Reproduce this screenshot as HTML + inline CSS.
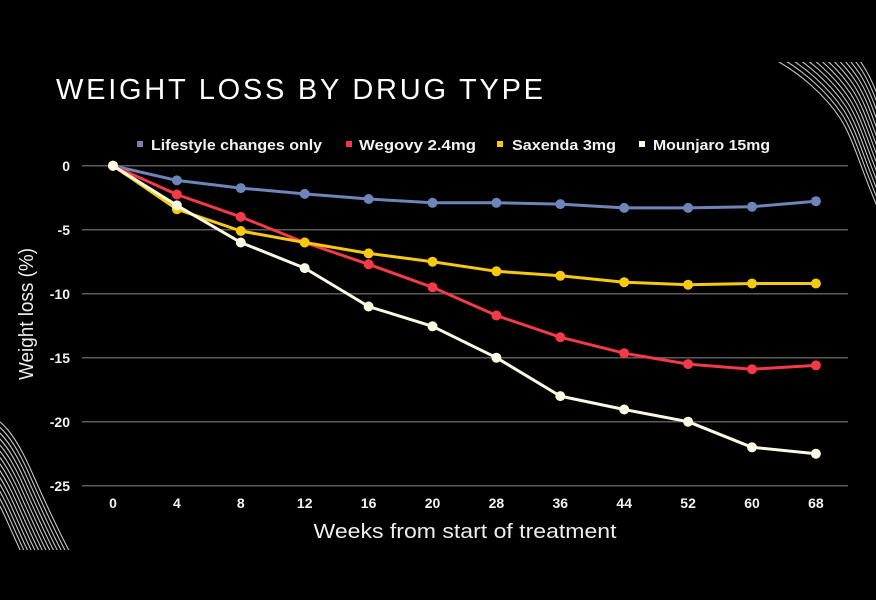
<!DOCTYPE html>
<html>
<head>
<meta charset="utf-8">
<style>
  html, body { margin:0; padding:0; background:#000; }
  body { width:876px; height:600px; overflow:hidden; }
  svg { display:block; }
  text { font-family: "Liberation Sans", sans-serif; }
</style>
</head>
<body>
<svg width="876" height="600" viewBox="0 0 876 600" xmlns="http://www.w3.org/2000/svg">
  <rect x="0" y="0" width="876" height="600" fill="#000"/>
  <defs>
    <clipPath id="ctr"><rect x="770" y="62" width="106" height="200"/></clipPath>
    <clipPath id="cbl"><rect x="0" y="400" width="100" height="150"/></clipPath>
    <path id="trc" d="M 779 62 C 800 74, 825 95, 840 118 S 862 175, 884 222" fill="none"/>
    <path id="blc" d="M -4 419 C 10 428, 21 448, 30 468 S 55 525, 72 556" fill="none"/>
  </defs>

  <!-- decorative curves top-right -->
  <g clip-path="url(#ctr)" stroke="#c4c4c4" stroke-width="1.1" fill="none">
    <use href="#trc" transform="translate(0,0)"/>
    <use href="#trc" transform="translate(1.8,-4)"/>
    <use href="#trc" transform="translate(3.6,-8)"/>
    <use href="#trc" transform="translate(5.4,-12)"/>
    <use href="#trc" transform="translate(7.2,-16)"/>
    <use href="#trc" transform="translate(9,-20)"/>
    <use href="#trc" transform="translate(10.8,-24)"/>
    <use href="#trc" transform="translate(12.6,-28)"/>
    <use href="#trc" transform="translate(14.4,-32)"/>
    <use href="#trc" transform="translate(16.2,-36)"/>
    <use href="#trc" transform="translate(18,-40)"/>
    <use href="#trc" transform="translate(19.8,-44)"/>
    <use href="#trc" transform="translate(21.6,-48)"/>
    <use href="#trc" transform="translate(23.4,-52)"/>
  </g>

  <!-- decorative curves bottom-left -->
  <g clip-path="url(#cbl)" stroke="#c4c4c4" stroke-width="1.1" fill="none">
    <use href="#blc" transform="translate(0,0)"/>
    <use href="#blc" transform="translate(-1.8,4)"/>
    <use href="#blc" transform="translate(-3.6,8)"/>
    <use href="#blc" transform="translate(-5.4,12)"/>
    <use href="#blc" transform="translate(-7.2,16)"/>
    <use href="#blc" transform="translate(-9,20)"/>
    <use href="#blc" transform="translate(-10.8,24)"/>
    <use href="#blc" transform="translate(-12.6,28)"/>
    <use href="#blc" transform="translate(-14.4,32)"/>
    <use href="#blc" transform="translate(-16.2,36)"/>
    <use href="#blc" transform="translate(-18,40)"/>
    <use href="#blc" transform="translate(-19.8,44)"/>
    <use href="#blc" transform="translate(-21.6,48)"/>
    <use href="#blc" transform="translate(-23.4,52)"/>
  </g>

  <!-- title -->
  <text x="56" y="99" font-size="29" fill="#ffffff" textLength="487" lengthAdjust="spacing">WEIGHT LOSS BY DRUG TYPE</text>

  <!-- legend -->
  <rect x="137" y="141" width="6" height="6" fill="#6d85b8"/>
  <text x="151" y="150" font-size="15" font-weight="bold" fill="#f2f2f2" textLength="171" lengthAdjust="spacingAndGlyphs">Lifestyle changes only</text>
  <rect x="346" y="141" width="6" height="6" fill="#f23a48"/>
  <text x="359" y="150" font-size="15" font-weight="bold" fill="#f2f2f2" textLength="117" lengthAdjust="spacingAndGlyphs">Wegovy 2.4mg</text>
  <rect x="497" y="141" width="6" height="6" fill="#f7c90f"/>
  <text x="512" y="150" font-size="15" font-weight="bold" fill="#f2f2f2" textLength="104" lengthAdjust="spacingAndGlyphs">Saxenda 3mg</text>
  <rect x="639" y="141" width="6" height="6" fill="#fdf8e2"/>
  <text x="653" y="150" font-size="15" font-weight="bold" fill="#f2f2f2" textLength="117" lengthAdjust="spacingAndGlyphs">Mounjaro 15mg</text>

  <!-- gridlines -->
  <g stroke="#5a5a5a" stroke-width="1.5">
    <line x1="82" y1="165.7" x2="848" y2="165.7"/>
    <line x1="82" y1="229.7" x2="848" y2="229.7"/>
    <line x1="82" y1="293.7" x2="848" y2="293.7"/>
    <line x1="82" y1="357.7" x2="848" y2="357.7"/>
    <line x1="82" y1="421.7" x2="848" y2="421.7"/>
    <line x1="82" y1="485.7" x2="848" y2="485.7"/>
  </g>

  <!-- y tick labels -->
  <g font-size="14" font-weight="bold" fill="#f2f2f2" text-anchor="end">
    <text x="70" y="171">0</text>
    <text x="70" y="235">-5</text>
    <text x="70" y="299">-10</text>
    <text x="70" y="363">-15</text>
    <text x="70" y="427">-20</text>
    <text x="70" y="491">-25</text>
  </g>

  <!-- x tick labels -->
  <g font-size="14" font-weight="bold" fill="#f2f2f2" text-anchor="middle">
    <text x="113" y="508">0</text>
    <text x="176.9" y="508">4</text>
    <text x="240.8" y="508">8</text>
    <text x="304.7" y="508">12</text>
    <text x="368.6" y="508">16</text>
    <text x="432.5" y="508">20</text>
    <text x="496.4" y="508">28</text>
    <text x="560.3" y="508">36</text>
    <text x="624.2" y="508">44</text>
    <text x="688.1" y="508">52</text>
    <text x="752" y="508">60</text>
    <text x="815.9" y="508">68</text>
  </g>

  <!-- axis titles -->
  <text x="465" y="538" font-size="20" fill="#eeeeee" text-anchor="middle" textLength="303" lengthAdjust="spacingAndGlyphs">Weeks from start of treatment</text>
  <text transform="translate(33,314) rotate(-90)" x="0" y="0" font-size="20" fill="#eeeeee" text-anchor="middle" textLength="132" lengthAdjust="spacingAndGlyphs">Weight loss (%)</text>

  <!-- Lifestyle -->
  <g fill="#6d85b8" stroke="#6d85b8">
    <polyline fill="none" stroke-width="3" stroke-linejoin="round" points="113,165.7 176.9,180.4 240.8,188.1 304.7,193.9 368.6,199 432.5,202.8 496.4,202.8 560.3,204.1 624.2,207.9 688.1,207.9 752,206.7 815.9,201.2"/>
    <g stroke="none">
      <circle cx="113" cy="165.7" r="5"/><circle cx="176.9" cy="180.4" r="5"/><circle cx="240.8" cy="188.1" r="5"/><circle cx="304.7" cy="193.9" r="5"/><circle cx="368.6" cy="199" r="5"/><circle cx="432.5" cy="202.8" r="5"/><circle cx="496.4" cy="202.8" r="5"/><circle cx="560.3" cy="204.1" r="5"/><circle cx="624.2" cy="207.9" r="5"/><circle cx="688.1" cy="207.9" r="5"/><circle cx="752" cy="206.7" r="5"/><circle cx="815.9" cy="201.2" r="5"/>
    </g>
  </g>

  <!-- Wegovy -->
  <g fill="#f23a48" stroke="#f23a48">
    <polyline fill="none" stroke-width="3" stroke-linejoin="round" points="113,165.7 176.9,194.5 240.8,216.9 304.7,242.5 368.6,264.3 432.5,287.3 496.4,315.5 560.3,337.2 624.2,353.2 688.1,364.1 752,369.2 815.9,365.4"/>
    <g stroke="none">
      <circle cx="113" cy="165.7" r="5"/><circle cx="176.9" cy="194.5" r="5"/><circle cx="240.8" cy="216.9" r="5"/><circle cx="304.7" cy="242.5" r="5"/><circle cx="368.6" cy="264.3" r="5"/><circle cx="432.5" cy="287.3" r="5"/><circle cx="496.4" cy="315.5" r="5"/><circle cx="560.3" cy="337.2" r="5"/><circle cx="624.2" cy="353.2" r="5"/><circle cx="688.1" cy="364.1" r="5"/><circle cx="752" cy="369.2" r="5"/><circle cx="815.9" cy="365.4" r="5"/>
    </g>
  </g>

  <!-- Saxenda -->
  <g fill="#f7c90f" stroke="#f7c90f">
    <polyline fill="none" stroke-width="3" stroke-linejoin="round" points="113,165.7 176.9,209.2 240.8,231 304.7,242.5 368.6,253.4 432.5,261.7 496.4,271.3 560.3,275.8 624.2,282.2 688.1,284.7 752,283.5 815.9,283.5"/>
    <g stroke="none">
      <circle cx="113" cy="165.7" r="5"/><circle cx="176.9" cy="209.2" r="5"/><circle cx="240.8" cy="231" r="5"/><circle cx="304.7" cy="242.5" r="5"/><circle cx="368.6" cy="253.4" r="5"/><circle cx="432.5" cy="261.7" r="5"/><circle cx="496.4" cy="271.3" r="5"/><circle cx="560.3" cy="275.8" r="5"/><circle cx="624.2" cy="282.2" r="5"/><circle cx="688.1" cy="284.7" r="5"/><circle cx="752" cy="283.5" r="5"/><circle cx="815.9" cy="283.5" r="5"/>
    </g>
  </g>

  <!-- Mounjaro -->
  <g fill="#fdf8e2" stroke="#fdf8e2">
    <polyline fill="none" stroke-width="3" stroke-linejoin="round" points="113,165.7 176.9,205.4 240.8,242.5 304.7,268.1 368.6,306.5 432.5,326.3 496.4,357.7 560.3,396.1 624.2,409.5 688.1,421.7 752,447.3 815.9,453.7"/>
    <g stroke="none">
      <circle cx="113" cy="165.7" r="5"/><circle cx="176.9" cy="205.4" r="5"/><circle cx="240.8" cy="242.5" r="5"/><circle cx="304.7" cy="268.1" r="5"/><circle cx="368.6" cy="306.5" r="5"/><circle cx="432.5" cy="326.3" r="5"/><circle cx="496.4" cy="357.7" r="5"/><circle cx="560.3" cy="396.1" r="5"/><circle cx="624.2" cy="409.5" r="5"/><circle cx="688.1" cy="421.7" r="5"/><circle cx="752" cy="447.3" r="5"/><circle cx="815.9" cy="453.7" r="5"/>
    </g>
  </g>
</svg>
</body>
</html>
